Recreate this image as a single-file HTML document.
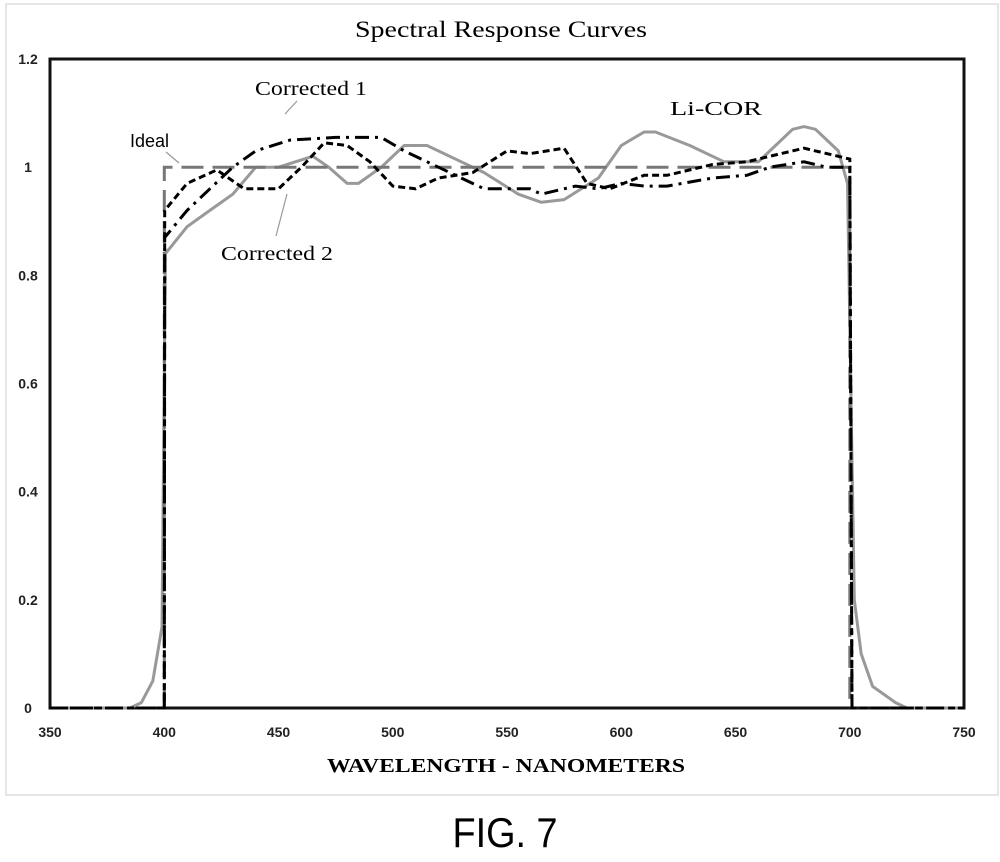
<!DOCTYPE html>
<html><head><meta charset="utf-8"><style>
body{margin:0;background:#fff;}
svg text{font-family:"Liberation Sans",sans-serif;}
</style></head><body>
<svg id="chart" width="1000" height="857" viewBox="0 0 1000 857">
<rect x="6" y="4" width="992" height="791" fill="#fff" stroke="#ddd" stroke-width="1.5"/>
<text x="355" y="37" font-size="23" textLength="292" lengthAdjust="spacingAndGlyphs" style="font-family:'Liberation Serif',serif">Spectral Response Curves</text>
<rect x="50" y="59" width="914" height="649" fill="none" stroke="#111" stroke-width="3"/>
<g id="axes"></g>
<g id="series"></g>
<text x="327" y="772" font-size="20" font-weight="bold" textLength="358" lengthAdjust="spacingAndGlyphs" style="font-family:'Liberation Serif',serif">WAVELENGTH - NANOMETERS</text>
<text x="505" y="847" text-anchor="middle" font-size="42" transform="translate(505 0) scale(0.9 1) translate(-505 0)">FIG. 7</text>
<text x="130" y="147" font-size="18">Ideal</text>
<line x1="166" y1="152" x2="179" y2="163" stroke="#999" stroke-width="1.2"/>
<text x="255" y="95" font-size="20" textLength="112" lengthAdjust="spacingAndGlyphs" style="font-family:'Liberation Serif',serif">Corrected 1</text>
<line x1="297" y1="101" x2="285" y2="114" stroke="#999" stroke-width="1.2"/>
<text x="670" y="115" font-size="20" textLength="92" lengthAdjust="spacingAndGlyphs" style="font-family:'Liberation Serif',serif">Li-COR</text>
<text x="221" y="260" font-size="20" textLength="112" lengthAdjust="spacingAndGlyphs" style="font-family:'Liberation Serif',serif">Corrected 2</text>
<line x1="276" y1="236" x2="287" y2="194" stroke="#999" stroke-width="1.2"/>
</svg>
<script>
const xTicks=[350,400,450,500,550,600,650,700,750];
const yTicks=[0,0.2,0.4,0.6,0.8,1,1.2];
const yTickLabels=["0","0.2","0.4","0.6","0.8","1","1.2"];
const licorX=[350,385,390,395,399,400.5,410,420,430,440,450,465,472,480,485,495,505,515,530,540,555,565,575,590,600,610,615,630,645,660,675,680,685,695,699,702,705,710,720,725,750];
const licorY=[0,0,0.01,0.05,0.15,0.84,0.89,0.92,0.95,1.0,1.0,1.02,1.0,0.97,0.97,1.0,1.04,1.04,1.01,0.99,0.95,0.935,0.94,0.98,1.04,1.065,1.065,1.04,1.01,1.01,1.07,1.075,1.07,1.03,0.97,0.2,0.1,0.04,0.01,0,0];
const corr1X=[350,400,400.2,410,420,430,440,455,475,495,505,520,540,560,565,580,590,600,610,620,640,655,665,680,690,700,701,750];
const corr1Y=[0,0,0.87,0.92,0.96,1.0,1.03,1.05,1.055,1.055,1.03,1.0,0.96,0.96,0.95,0.965,0.96,0.97,0.965,0.965,0.98,0.985,1.0,1.01,1.0,1.0,0,0];
const corr2X=[350,400,400.2,410,423,435,450,460,470,480,490,500,510,520,535,550,560,575,585,595,610,620,640,655,665,680,695,700,701,750];
const corr2Y=[0,0,0.92,0.97,0.995,0.96,0.96,1.0,1.045,1.04,1.01,0.965,0.96,0.98,0.99,1.03,1.025,1.035,0.97,0.96,0.985,0.985,1.005,1.01,1.02,1.035,1.02,1.015,0,0];
const idealX=[400,400,700,700];
const idealY=[0,1,1,0];
const NS='http://www.w3.org/2000/svg';
const X=v=>50+(v-350)/400*914;
const Y=v=>708-v/1.2*649;
const axes=document.getElementById('axes'),series=document.getElementById('series');
function mk(tag,attrs,parent){const e=document.createElementNS(NS,tag);for(const k in attrs)e.setAttribute(k,attrs[k]);parent.appendChild(e);return e;}
xTicks.forEach(t=>{const e=mk('text',{x:X(t),y:737,'text-anchor':'middle','font-size':14,'font-weight':'bold',fill:'#222'},axes);


e.textContent=t;});
yTicks.forEach((t,i)=>{const e=mk('text',{x:28,y:Y(t)+5,'text-anchor':'middle','font-size':14,'font-weight':'bold',fill:'#222'},axes);


e.textContent=yTickLabels[i];});
function path(xs,ys){return xs.map((x,i)=>(i?'L':'M')+X(x).toFixed(1)+' '+Y(ys[i]).toFixed(1)).join(' ');}
const l=mk('path',{d:path(licorX,licorY),fill:'none',stroke:'#999',"stroke-width":3,'stroke-linejoin':'round'},series);


const id=mk('path',{d:path(idealX,idealY),fill:'none',stroke:'#777',"stroke-width":3,'stroke-dasharray':'22 9'},series);


const c1=mk('path',{d:path(corr1X,corr1Y),fill:'none',stroke:'#000',"stroke-width":3,'stroke-dasharray':'14 6 3 6'},series);


const c2=mk('path',{d:path(corr2X,corr2Y),fill:'none',stroke:'#000',"stroke-width":3,'stroke-dasharray':'7 4'},series);


</script>
</body></html>
